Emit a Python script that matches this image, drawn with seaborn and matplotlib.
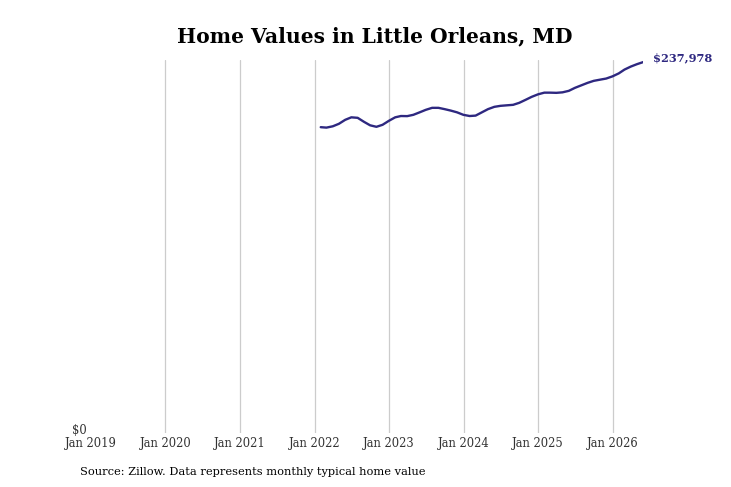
import pandas as pd
import matplotlib.pyplot as plt
import matplotlib.dates as mdates
import matplotlib.transforms as mtransforms
from matplotlib.ticker import FixedLocator, FuncFormatter
import seaborn as sns

# monthly typical home value, month-end dates Jan 2022 .. May 2026
dates = pd.date_range("2022-01-31", "2026-05-31", freq="ME")
values = [
    196200, 195920, 196760, 198360, 200920, 202520, 202200, 199640, 197400, 196440,
    197720, 200280, 202520, 203360, 203290, 204130, 205730, 207330, 208610, 208610,
    207780, 206820, 205730, 204130, 203360, 203620, 205730, 207780, 209250, 209890,
    210220, 210540, 211820, 213740, 215660, 217270, 218350, 218350, 218230, 218550,
    219510, 221430, 223030, 224630, 225920, 226680, 227390, 228800, 230720, 233160,
    235090, 236620, 237978,
]
tick_years = list(range(2019, 2027))

title = "Home Values in Little Orleans, MD"
source = "Source: Zillow. Data represents monthly typical home value"
line_color = "#2e2880"

df = pd.DataFrame({"date": dates, "value": values})

sns.set_style("white")
plt.rcParams["font.family"] = ["DejaVu Serif"]

fig = plt.figure(figsize=(7.31, 4.87), dpi=100)
ax = fig.add_axes([0.1245, 0.1109, 0.7555, 0.7659])

sns.lineplot(data=df, x="date", y="value", ax=ax, color=line_color, linewidth=1.7)

ax.set_xlim(pd.Timestamp("2019-01-01"), df["date"].iloc[-1])
ax.set_ylim(0, 239300)

ticks = [mdates.date2num(pd.Timestamp(f"{y}-01-01")) for y in tick_years]
ax.xaxis.set_major_locator(FixedLocator(ticks))
ax.set_xticklabels([f"Jan {y}" for y in tick_years], fontsize=8.3, color="#333333")
ax.set_yticks([0])
ax.yaxis.set_major_formatter(FuncFormatter(lambda v, p: f"${v:,.0f}"))
ax.tick_params(axis="y", labelsize=8.3, pad=3, length=0, labelcolor="#333333")
ax.tick_params(axis="x", length=0, pad=3)

# lift the $0 label a little so it sits just above the first date label
shift = mtransforms.ScaledTranslation(0, 3 / 72, fig.dpi_scale_trans)
for lbl in ax.get_yticklabels():
    lbl.set_transform(lbl.get_transform() + shift)

ax.grid(axis="x", color="#cccccc", linewidth=0.9)
ax.grid(axis="y", visible=False)
# no gridline on the left edge
ax.xaxis.get_gridlines()[0].set_visible(False)
sns.despine(ax=ax, left=True, bottom=True)
ax.set_xlabel("")
ax.set_ylabel("")

last = df.iloc[-1]
ax.annotate(f"${last['value']:,.0f}", xy=(last["date"], last["value"]),
            xytext=(7, 3), textcoords="offset points", fontsize=8.2,
            fontweight="bold", color=line_color, va="center", ha="left",
            annotation_clip=False)

fig.text(375 / 731, 1 - 36 / 487, title, ha="center", va="center",
         fontsize=14.6, fontweight="bold", color="black")
fig.text(80 / 731, 1 - 472 / 487, source, ha="left", va="center",
         fontsize=8.2, color="black")

fig.savefig("out.png", dpi=100)
